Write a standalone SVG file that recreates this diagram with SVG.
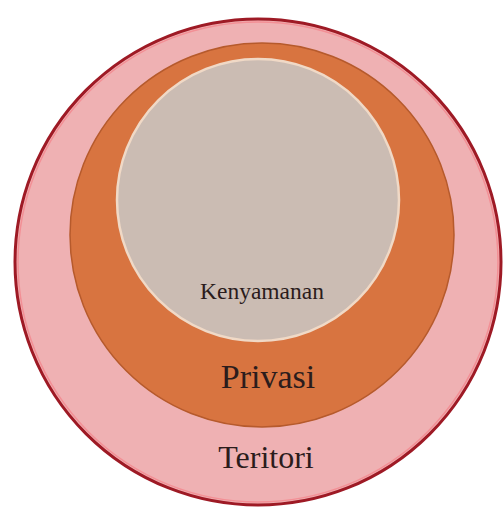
<svg xmlns="http://www.w3.org/2000/svg" width="503" height="508" viewBox="0 0 503 508">
<style>
.lbl{font-family:"Liberation Serif","Times New Roman",serif;fill:#2b1c1c;text-anchor:middle}
</style>
<rect width="503" height="508" fill="#ffffff"/>
<g id="teritori">
<circle cx="258" cy="262" r="243" fill="#efb1b3" stroke="#9e1a25" stroke-width="3"/>
<circle cx="258" cy="262" r="240" fill="none" stroke="#f38f95" stroke-width="1.5"/>
<text class="lbl" x="266" y="468" font-size="32">Teritori</text>
</g>
<g id="privasi">
<circle cx="262" cy="235" r="192" fill="#d87440" stroke="#b65a2c" stroke-width="1.5"/>
<text class="lbl" x="268" y="388" font-size="34">Privasi</text>
</g>
<g id="kenyamanan">
<circle cx="258" cy="200" r="141" fill="#cbbcb3" stroke="#f0d9c6" stroke-width="2.5"/>
<text class="lbl" x="262" y="299" font-size="23.5">Kenyamanan</text>
</g>
<g id="connectors"/>
</svg>
